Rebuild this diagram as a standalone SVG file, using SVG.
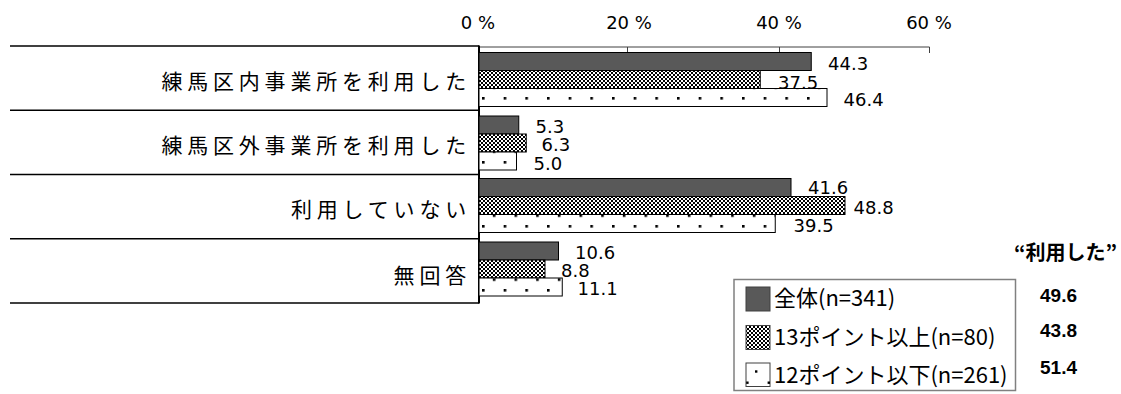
<svg xmlns="http://www.w3.org/2000/svg" width="1121" height="394" viewBox="0 0 1121 394">
<style>
.cat{font-family:"Noto Sans CJK JP","Noto Sans",sans-serif;font-size:21px;letter-spacing:4.8px;fill:#000;text-anchor:end}
.ax{font-family:"DejaVu Sans",sans-serif;font-size:18px;fill:#000;text-anchor:middle}
.val{font-family:"DejaVu Sans",sans-serif;font-size:18px;fill:#000}
.leg{font-family:"Noto Sans CJK JP","Noto Sans",sans-serif;font-size:22px;fill:#000}
.hdr{font-family:"Noto Sans CJK JP",sans-serif;font-size:20px;font-weight:bold;fill:#000;text-anchor:end}
.num{font-family:"Liberation Sans",sans-serif;font-size:19px;font-weight:bold;fill:#000}
.sep{stroke:#000;stroke-width:1.5;fill:none}
.b1{fill:#595959;stroke:#000;stroke-width:1}
.b2{fill:url(#chk);stroke:#000;stroke-width:1}
.b3{fill:url(#dot);stroke:#000;stroke-width:1}
</style>
<defs>
<pattern id="chk" patternUnits="userSpaceOnUse" x="479" y="0" width="4" height="4">
<rect width="4" height="4" fill="#fff"/>
<rect x="0" y="0" width="2" height="2" fill="#000"/>
<rect x="2" y="2" width="2" height="2" fill="#000"/>
</pattern>
<pattern id="dot" patternUnits="userSpaceOnUse" x="482" y="97" width="21.667" height="21.333">
<rect width="21.667" height="21.333" fill="#fff"/>
<rect x="0" y="0" width="2.6" height="2.6" fill="#000"/>
<rect x="10.83" y="10.67" width="2.6" height="2.6" fill="#000"/>
</pattern>
</defs>
<rect width="1121" height="394" fill="#fff"/>

<g id="axis">
<line x1="479" y1="47" x2="929.5" y2="47" stroke="#404040" stroke-width="1"/>
<line x1="627.5" y1="47" x2="627.5" y2="53" stroke="#404040" stroke-width="1"/>
<line x1="779.5" y1="47" x2="779.5" y2="53" stroke="#404040" stroke-width="1"/>
<line x1="929.5" y1="47" x2="929.5" y2="53" stroke="#404040" stroke-width="1"/>
<text class="ax" x="478" y="28.5">0 %</text>
<text class="ax" x="629" y="28.5">20 %</text>
<text class="ax" x="779" y="28.5">40 %</text>
<text class="ax" x="929" y="28.5">60 %</text>
</g>

<g id="connectors">
<line class="sep" x1="10" y1="46" x2="479" y2="46"/>
<line class="sep" x1="10" y1="110.25" x2="479" y2="110.25"/>
<line class="sep" x1="10" y1="174.5" x2="479" y2="174.5"/>
<line class="sep" x1="10" y1="238.75" x2="479" y2="238.75"/>
<line class="sep" x1="10" y1="303" x2="479" y2="303"/>
<line x1="479" y1="45.5" x2="479" y2="303.5" stroke="#000" stroke-width="2"/>
</g>

<g id="cat1">
<text class="cat" x="471" y="89">練馬区内事業所を利用した</text>
<rect class="b1" x="479" y="52.5" width="332.25" height="18"/>
<rect class="b2" x="479" y="70.5" width="281.25" height="18"/>
<rect class="b3" x="479" y="88.5" width="348" height="18"/>
<text class="val" x="828" y="70">44.3</text>
<text class="val" x="778" y="89">37.5</text>
<text class="val" x="843.5" y="105.5">46.4</text>
</g>

<g id="cat2">
<text class="cat" x="471" y="153">練馬区外事業所を利用した</text>
<rect class="b1" x="479" y="116" width="39.75" height="18"/>
<rect class="b2" x="479" y="134" width="47.25" height="18"/>
<rect class="b3" x="479" y="152" width="37.5" height="18"/>
<text class="val" x="535.5" y="132.5">5.3</text>
<text class="val" x="541.5" y="151">6.3</text>
<text class="val" x="533.5" y="169.5">5.0</text>
</g>

<g id="cat3">
<text class="cat" x="471" y="217">利用していない</text>
<rect class="b1" x="479" y="178.5" width="312" height="18"/>
<rect class="b2" x="479" y="196.5" width="366" height="18"/>
<rect class="b3" x="479" y="214.5" width="296.25" height="18"/>
<text class="val" x="808" y="194">41.6</text>
<text class="val" x="853.5" y="214">48.8</text>
<text class="val" x="793.5" y="232">39.5</text>
</g>

<g id="cat4">
<text class="cat" x="471" y="283">無回答</text>
<rect class="b1" x="479" y="242" width="79.5" height="18"/>
<rect class="b2" x="479" y="260" width="66" height="18"/>
<rect class="b3" x="479" y="278" width="83.25" height="18"/>
<text class="val" x="575" y="259">10.6</text>
<text class="val" x="561" y="277">8.8</text>
<text class="val" x="577.5" y="295">11.1</text>
</g>

<g id="legend">
<rect x="734" y="279.5" width="281.5" height="111" fill="#fff" stroke="#808080" stroke-width="1.5"/>
<rect x="746" y="287" width="24" height="24" fill="#595959" stroke="#404040" stroke-width="1"/>
<rect x="746" y="325.5" width="24" height="24" fill="url(#chk)" stroke="#404040" stroke-width="1"/>
<rect x="746" y="363" width="24" height="23.5" fill="#fff" stroke="#404040" stroke-width="1"/>
<rect x="755" y="370.3" width="2.4" height="2.4" fill="#000"/>
<rect x="746.2" y="381.5" width="2.4" height="2.4" fill="#000"/>
<rect x="767.6" y="381.5" width="2.4" height="2.4" fill="#000"/>
<text class="leg" x="774" y="306">全体(n=341)</text>
<text class="leg" x="774" y="345">13ポイント以上(n=80)</text>
<text class="leg" x="774" y="383">12ポイント以下(n=261)</text>
</g>

<g id="totals">
<text class="hdr" x="1117" y="260">“利用した”</text>
<text class="num" x="1040" y="301.5">49.6</text>
<text class="num" x="1040" y="337">43.8</text>
<text class="num" x="1040" y="373.5">51.4</text>
</g>
</svg>
